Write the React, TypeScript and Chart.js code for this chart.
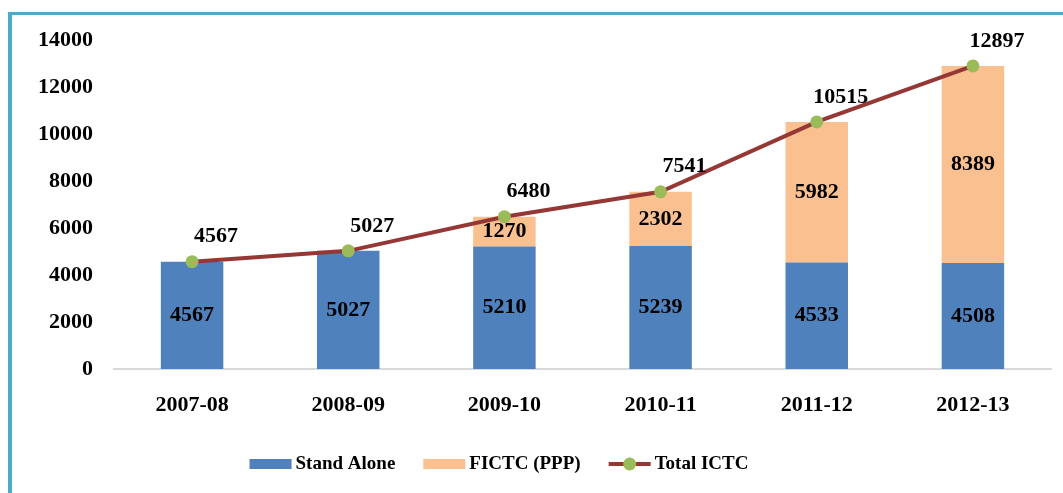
import React, { useEffect, useRef } from "react";
import { Chart, registerables } from "chart.js";

Chart.register(...registerables);

const categories = ["2007-08", "2008-09", "2009-10", "2010-11", "2011-12", "2012-13"];
const standAlone = [4567, 5027, 5210, 5239, 4533, 4508];
const fictcPpp = [0, 0, 1270, 2302, 5982, 8389];
const totalIctc = [4567, 5027, 6480, 7541, 10515, 12897];
const yMin = 0;
const yMax = 14000;
const yStep = 2000;

const FONT = "'Liberation Serif', 'Times New Roman', serif";
const BLUE = "#4f81bd";
const ORANGE = "#fac090";
const LINE_RED = "#953735";
const GREEN = "#9bbb59";

const valueLabelsPlugin = {
  id: "valueLabels",
  afterDatasetsDraw(chart: any) {
    const ctx = chart.ctx;
    ctx.save();
    ctx.font = `bold 22px ${FONT}`;
    ctx.fillStyle = "#000";
    ctx.textAlign = "center";
    ctx.textBaseline = "middle";
    chart.data.datasets.forEach((ds: any, di: number) => {
      const meta = chart.getDatasetMeta(di);
      meta.data.forEach((el: any, i: number) => {
        const v = ds.data[i];
        if (!v) return;
        if (meta.type === "bar") {
          const p = el.getProps(["x", "y", "base"], true);
          ctx.fillText(String(v), p.x, (p.y + p.base) / 2);
        } else {
          ctx.fillText(String(v), el.x + 24, el.y - 25);
        }
      });
    });
    ctx.restore();
  },
};

const customLegendPlugin = {
  id: "customLegend",
  afterDraw(chart: any) {
    const ctx = chart.ctx;
    ctx.save();
    ctx.font = `bold 19px ${FONT}`;
    const boxW = 42;
    const gap = 4;
    const spacing = 28;
    const centerX = 499;
    const y = 464;
    const items = chart.data.datasets.map((ds: any) => ({
      text: ds.label,
      type: ds.type || "bar",
      bg: ds.backgroundColor,
      border: ds.borderColor,
      pointBg: ds.pointBackgroundColor,
    }));
    const widths = items.map((it: any) => boxW + gap + ctx.measureText(it.text).width);
    const total = widths.reduce((a: number, b: number) => a + b, 0) + spacing * (items.length - 1);
    let x = centerX - total / 2;
    items.forEach((it: any, i: number) => {
      if (it.type === "line") {
        ctx.strokeStyle = it.border;
        ctx.lineWidth = 4;
        ctx.beginPath();
        ctx.moveTo(x, y);
        ctx.lineTo(x + boxW, y);
        ctx.stroke();
        ctx.fillStyle = it.pointBg;
        ctx.beginPath();
        ctx.arc(x + boxW / 2, y, 6.5, 0, Math.PI * 2);
        ctx.fill();
      } else {
        ctx.fillStyle = it.bg;
        ctx.fillRect(x, y - 5, boxW, 10);
      }
      ctx.fillStyle = "#000";
      ctx.textAlign = "left";
      ctx.textBaseline = "middle";
      ctx.fillText(it.text, x + boxW + gap, y);
      x += widths[i] + spacing;
    });
    ctx.restore();
  },
};

export default function App() {
  const canvasRef = useRef<HTMLCanvasElement | null>(null);

  useEffect(() => {
    if (!canvasRef.current) return;
    const tickFont = { family: FONT, size: 22, weight: "bold" as const };
    const chart = new Chart(canvasRef.current, {
      type: "bar",
      data: {
        labels: categories,
        datasets: [
          {
            type: "bar",
            label: "Stand Alone",
            data: standAlone,
            backgroundColor: BLUE,
            borderWidth: 0,
            stack: "s",
            order: 1,
            categoryPercentage: 0.8,
            barPercentage: 0.5,
          },
          {
            type: "bar",
            label: "FICTC (PPP)",
            data: fictcPpp,
            backgroundColor: ORANGE,
            borderWidth: 0,
            stack: "s",
            order: 1,
            categoryPercentage: 0.8,
            barPercentage: 0.5,
          },
          {
            type: "line",
            label: "Total ICTC",
            data: totalIctc,
            borderColor: LINE_RED,
            backgroundColor: LINE_RED,
            borderWidth: 4,
            pointRadius: 6.5,
            pointBackgroundColor: GREEN,
            pointBorderColor: GREEN,
            pointBorderWidth: 0,
            tension: 0,
            stack: "total",
            order: 0,
          } as any,
        ],
      },
      options: {
        responsive: false,
        animation: false,
        layout: { padding: { top: 40, left: 0, right: 12, bottom: 0 } },
        plugins: {
          legend: { display: false },
          tooltip: { enabled: false },
        },
        scales: {
          x: {
            stacked: true,
            grid: { display: false, drawTicks: false },
            border: { display: true, color: "#d9d9d9", width: 2 },
            ticks: { font: tickFont, color: "#000", padding: 23 },
            afterFit: (s: any) => {
              s.height = 124;
            },
          },
          y: {
            stacked: true,
            min: yMin,
            max: yMax,
            grid: { display: false, drawTicks: false },
            border: { display: false },
            ticks: {
              stepSize: yStep,
              font: tickFont,
              color: "#000",
              padding: 21,
              callback: (v: any) => String(v),
            },
            afterFit: (s: any) => {
              s.width = 114;
            },
          },
        },
      },
      plugins: [valueLabelsPlugin, customLegendPlugin],
    });
    return () => chart.destroy();
  }, []);

  return (
    <>
      <canvas
        ref={canvasRef}
        width={1063}
        height={493}
        style={{ position: "fixed", left: 0, top: 0, width: 1063, height: 493, display: "block" }}
      />
      <div
        style={{
          position: "fixed",
          left: 8,
          top: 12,
          width: 1200,
          height: 700,
          borderLeft: "4px solid #4bacc6",
          borderTop: "3px solid #4bacc6",
          pointerEvents: "none",
        }}
      />
    </>
  );
}
